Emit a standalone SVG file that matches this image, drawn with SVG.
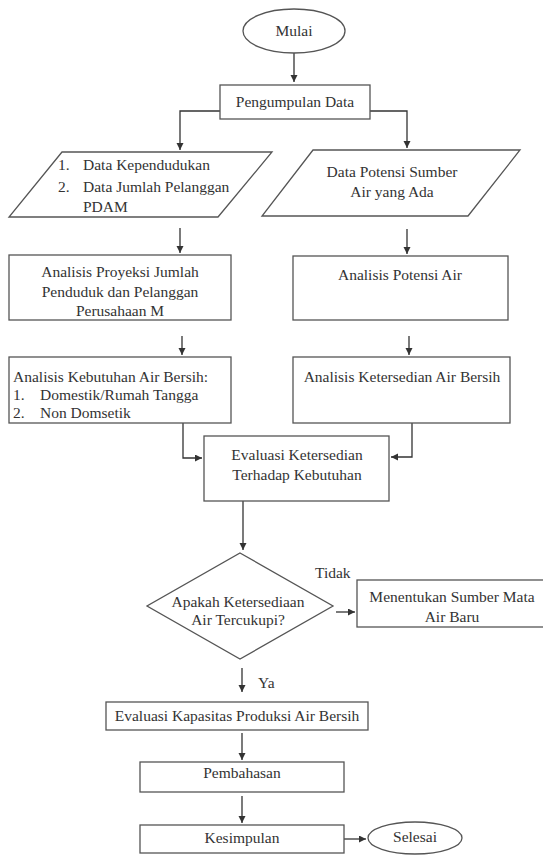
<svg xmlns="http://www.w3.org/2000/svg" width="543" height="855" viewBox="0 0 543 855" font-family="'Liberation Serif', 'Times New Roman', serif">
<defs>
<marker id="arr" markerUnits="userSpaceOnUse" markerWidth="8" markerHeight="8" refX="7" refY="3.5" orient="auto">
<path d="M0,0 L7,3.5 L0,7 z" fill="#333"/>
</marker>
<style>
.s{fill:#fff;stroke:#555;stroke-width:1.3}
text{font-family:'Liberation Serif','Times New Roman',serif;font-size:15.5px;fill:#333}
.m{text-anchor:middle}
.c{fill:none;stroke:#333;stroke-width:1.3}
</style>
</defs>
<rect width="543" height="855" fill="#fff"/>
<g id="connectors">
<path class="c" d="M294,53 V82" marker-end="url(#arr)"/>
<path class="c" d="M220,111 H180 V150" marker-end="url(#arr)"/>
<path class="c" d="M370,111 H407 V148" marker-end="url(#arr)"/>
<path class="c" d="M180,228 V253" marker-end="url(#arr)"/>
<path class="c" d="M407,229 V254" marker-end="url(#arr)"/>
<path class="c" d="M182,336 V355" marker-end="url(#arr)"/>
<path class="c" d="M409,336 V355" marker-end="url(#arr)"/>
<path class="c" d="M183,423 V458 H202" marker-end="url(#arr)"/>
<path class="c" d="M412,423 V457 H391" marker-end="url(#arr)"/>
<path class="c" d="M243,501 V550" marker-end="url(#arr)"/>
<path class="c" d="M336,612 H355" marker-end="url(#arr)"/>
<path class="c" d="M242,668 V692" marker-end="url(#arr)"/>
<path class="c" d="M242,733 V760" marker-end="url(#arr)"/>
<path class="c" d="M242,796 V823" marker-end="url(#arr)"/>
<path class="c" d="M344,839 H366" marker-end="url(#arr)"/>
</g>
<g id="mulai">
<ellipse class="s" cx="294" cy="31" rx="51" ry="22"/>
<text class="m" x="294" y="36">Mulai</text>
</g>
<g id="pengumpulan">
<rect class="s" x="220" y="85" width="150" height="34"/>
<text class="m" x="295" y="107">Pengumpulan Data</text>
</g>
<g id="data-kependudukan">
<polygon class="s" points="62,152 272,152 218,217 9,217"/>
<text x="58" y="170">1.</text>
<text x="83" y="170">Data Kependudukan</text>
<text x="58" y="192">2.</text>
<text x="83" y="192">Data Jumlah Pelanggan</text>
<text x="83" y="212">PDAM</text>
</g>
<g id="data-potensi">
<polygon class="s" points="313,150 520,150 468,216 262,216"/>
<text class="m" x="392" y="177">Data Potensi Sumber</text>
<text class="m" x="392" y="197">Air yang Ada</text>
</g>
<g id="analisis-proyeksi">
<rect class="s" x="9" y="255" width="222" height="65"/>
<text class="m" x="120" y="277">Analisis Proyeksi Jumlah</text>
<text class="m" x="120" y="297">Penduduk dan Pelanggan</text>
<text class="m" x="120" y="316">Perusahaan M</text>
</g>
<g id="analisis-potensi">
<rect class="s" x="293" y="256" width="215" height="64"/>
<text class="m" x="400" y="280">Analisis Potensi Air</text>
</g>
<g id="analisis-kebutuhan">
<rect class="s" x="9" y="357" width="222" height="66"/>
<text x="13" y="382">Analisis Kebutuhan Air Bersih:</text>
<text x="13" y="400">1.</text>
<text x="40" y="400">Domestik/Rumah Tangga</text>
<text x="13" y="418">2.</text>
<text x="40" y="418">Non Domsetik</text>
</g>
<g id="analisis-ketersediaan">
<rect class="s" x="293" y="357" width="217" height="66"/>
<text class="m" x="402" y="382">Analisis Ketersedian Air Bersih</text>
</g>
<g id="evaluasi-ketersediaan">
<rect class="s" x="204" y="436" width="185" height="65"/>
<text class="m" x="297" y="460">Evaluasi Ketersedian</text>
<text class="m" x="297" y="480">Terhadap Kebutuhan</text>
</g>
<g id="keputusan">
<polygon class="s" points="240,553 333,606 240,659 147,606"/>
<text class="m" x="238" y="607">Apakah Ketersediaan</text>
<text class="m" x="238" y="625">Air Tercukupi?</text>
</g>
<text x="315" y="578">Tidak</text>
<g id="sumber-baru">
<rect class="s" x="357" y="580" width="190" height="47"/>
<text class="m" x="452" y="602">Menentukan Sumber Mata</text>
<text class="m" x="452" y="622">Air Baru</text>
</g>
<text x="258" y="688">Ya</text>
<g id="evaluasi-kapasitas">
<rect class="s" x="106" y="702" width="262" height="28"/>
<text class="m" x="237" y="721">Evaluasi Kapasitas Produksi Air Bersih</text>
</g>
<g id="pembahasan">
<rect class="s" x="140" y="762" width="204" height="30"/>
<text class="m" x="242" y="778">Pembahasan</text>
</g>
<g id="kesimpulan">
<rect class="s" x="140" y="825" width="204" height="28"/>
<text class="m" x="242" y="843">Kesimpulan</text>
</g>
<g id="selesai">
<ellipse class="s" cx="415" cy="838" rx="47" ry="16"/>
<text class="m" x="415" y="842">Selesai</text>
</g>
</svg>
